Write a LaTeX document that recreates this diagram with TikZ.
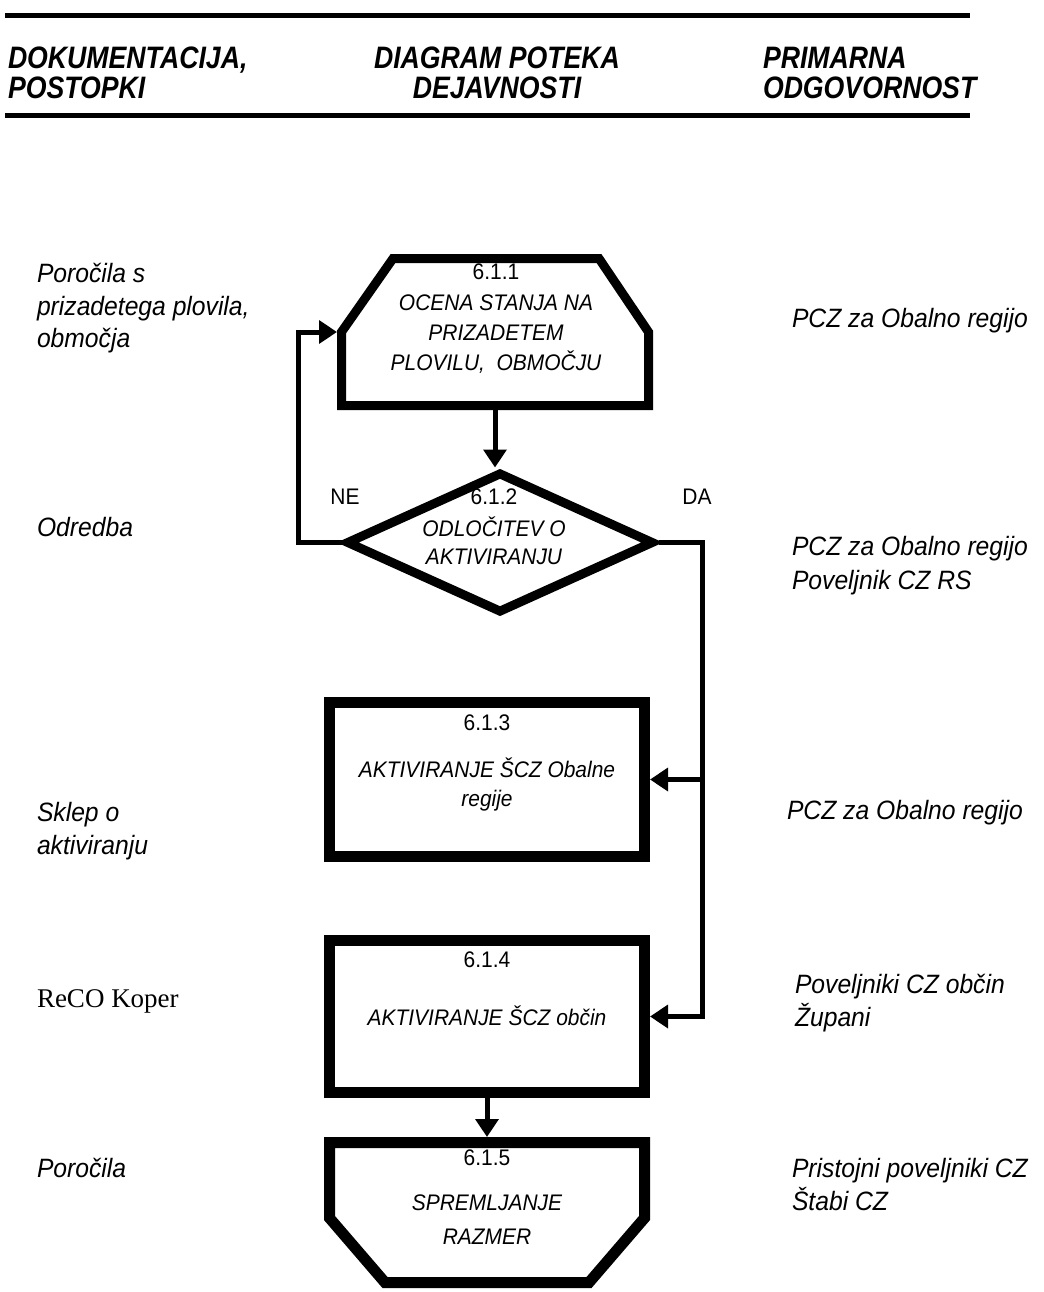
\documentclass[tikz,border=0pt]{standalone}
\usepackage{fontspec}
\setmainfont{Liberation Sans}
\newfontfamily\hdrfont[FakeStretch=0.86]{Liberation Sans}
\newfontfamily\bodyfont[FakeStretch=0.93]{Liberation Sans}
\newfontfamily\recofont{Liberation Serif}
\usetikzlibrary{shapes.geometric,arrows.meta}
\tikzset{
  txt/.style={inner sep=0pt, outer sep=0pt},
  hdr/.style={txt, font=\hdrfont\fontsize{23.25pt}{28pt}\selectfont\bfseries\itshape},
  side/.style={txt, anchor=base west, font=\bodyfont\fontsize{19.9pt}{24pt}\selectfont\itshape},
  boxnum/.style={txt, anchor=base, font=\bodyfont\fontsize{16.9pt}{20pt}\selectfont},
  boxtxt/.style={txt, anchor=base, font=\bodyfont\fontsize{16.9pt}{20pt}\selectfont\itshape},
  conn/.style={line width=3.75pt, -{Triangle[length=13.5pt,width=17pt]}},
  rulestyle/.style={line width=3.75pt},
  hole/.style={inner sep=0pt, draw=none},
  procbox/.style={draw, line width=8.25pt, inner sep=0pt, minimum width=236.25pt},
}
\begin{document}
\begin{tikzpicture}[x=0.75pt,y=-0.75pt]
\useasboundingbox (0,0) rectangle (1043,1292);
\fill[white] (0,0) rectangle (1043,1292);
% header
\draw[rulestyle] (5,15.5) -- (970,15.5);
\draw[rulestyle] (5,115.5) -- (970,115.5);
\node[hdr, anchor=base west] (h1a) at (8,68) {DOKUMENTACIJA,};
\node[hdr, anchor=base west] (h1b) at (8,98) {POSTOPKI};
\node[hdr, anchor=base] (h2a) at (497,68) {DIAGRAM POTEKA};
\node[hdr, anchor=base] (h2b) at (497,98) {DEJAVNOSTI};
\node[hdr, anchor=base west] (h3a) at (763,68) {PRIMARNA};
\node[hdr, anchor=base west] (h3b) at (763,98) {ODGOVORNOST};

% 6.1.1
\node[hole, minimum width=230.25pt, minimum height=110.25pt, outer sep=3.375pt] (n1) at (495,332) {};
\draw[line width=6.75pt] (393,258.5) -- (599,258.5) -- (648.5,332) -- (648.5,405.5) -- (341.5,405.5) -- (341.5,332) -- cycle;
\node[boxnum] (n1num) at (496,279.5) {6.1.1};
\node[boxtxt] (n1t1) at (496,310.5) {OCENA STANJA NA};
\node[boxtxt] (n1t2) at (496,340.5) {PRIZADETEM};
\node[boxtxt] (n1t3) at (496,370.5) {PLOVILU,\ \ OBMOČJU};

% 6.1.2
\node[draw, diamond, line width=6.75pt, inner sep=0pt, minimum width=231pt, minimum height=105.75pt] (n2) at (500,542.5) {};
\node[boxnum] (n2num) at (494,504.5) {6.1.2};
\node[boxtxt] (n2t1) at (494,536) {ODLOČITEV O};
\node[boxtxt] (n2t2) at (494,564) {AKTIVIRANJU};
\node[boxnum] (ne) at (345,504.5) {NE};
\node[boxnum] (da) at (697,504.5) {DA};

% 6.1.3
\node[procbox, minimum height=115.5pt] (n3) at (487,779.5) {};
\node[boxnum] (n3num) at (487,730.5) {6.1.3};
\node[boxtxt] (n3t1) at (487,777) {AKTIVIRANJE ŠCZ Obalne};
\node[boxtxt] (n3t2) at (487,806) {regije};

% 6.1.4
\node[procbox, minimum height=114pt] (n4) at (487,1016.5) {};
\node[boxnum] (n4num) at (487,967.5) {6.1.4};
\node[boxtxt] (n4t1) at (487,1025.5) {AKTIVIRANJE ŠCZ občin};

% 6.1.5
\node[hole, minimum width=236.25pt, minimum height=105.375pt, outer sep=4.125pt] (n5) at (487,1212.75) {};
\draw[line width=8.25pt] (329.5,1142.5) -- (644.5,1142.5) -- (644.5,1218) -- (589,1282.5) -- (385,1282.5) -- (329.5,1218) -- cycle;
\node[boxnum] (n5num) at (487,1165.5) {6.1.5};
\node[boxtxt] (n5t1) at (487,1210.5) {SPREMLJANJE};
\node[boxtxt] (n5t2) at (487,1244.5) {RAZMER};

% connectors
\draw[conn] (n1.south) -- (n1.south |- n2.north);
\coordinate (loopc) at (298,542.5);
\draw[conn] (n2.west) -- (loopc) |- (n1.west);
\coordinate (rail) at (702,542.5);
\draw[conn] (n2.east) -- (rail) |- (n4.east);
\draw[conn] (rail |- n3.east) -- (n3.east);
\draw[conn] (n4.south) -- (n5.north);

% left column
\node[side] (l1a) at (37,282) {Poročila s};
\node[side] (l1b) at (37,315) {prizadetega plovila,};
\node[side] (l1c) at (37,347) {območja};
\node[side] (l2) at (37,536) {Odredba};
\node[side] (l3a) at (37,821) {Sklep o};
\node[side] (l3b) at (37,854) {aktiviranju};
\node[txt, anchor=base west, font=\recofont\fontsize{20.25pt}{24pt}\selectfont] (l4) at (37,1007) {ReCO Koper};
\node[side] (l5) at (37,1177) {Poročila};

% right column
\node[side] (r1) at (792,327) {PCZ za Obalno regijo};
\node[side] (r2a) at (792,555) {PCZ za Obalno regijo};
\node[side] (r2b) at (792,589) {Poveljnik CZ RS};
\node[side] (r3) at (787,819) {PCZ za Obalno regijo};
\node[side] (r4a) at (795,993) {Poveljniki CZ občin};
\node[side] (r4b) at (795,1026) {Župani};
\node[side] (r5a) at (792,1177) {Pristojni poveljniki CZ};
\node[side] (r5b) at (792,1210) {Štabi CZ};
\end{tikzpicture}
\end{document}
